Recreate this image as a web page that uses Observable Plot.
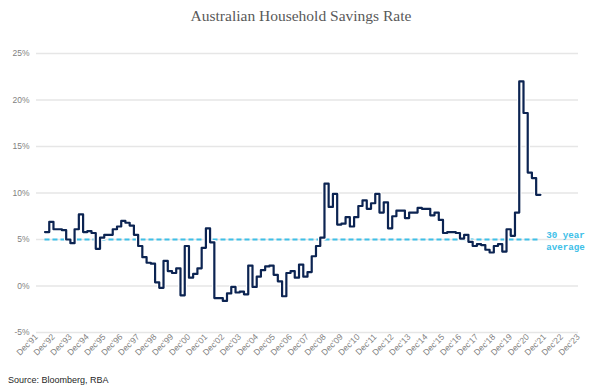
<!DOCTYPE html>
<html>
<head>
<meta charset="utf-8">
<script src="https://cdn.jsdelivr.net/npm/d3@7"></script>
<script src="https://cdn.jsdelivr.net/npm/@observablehq/plot@0.6"></script>
<style>
  html, body { margin: 0; padding: 0; background: #fff; }
  #wrap { position: relative; width: 602px; height: 392px; overflow: hidden; }
  #title { position: absolute; top: 7px; left: 0; width: 602px; text-align: center;
           font-family: "Liberation Serif", serif; font-size: 15.5px; color: #595959; }
  #chart { position: absolute; top: 35px; left: 0; }
  #caption { position: absolute; top: 375px; left: 8px; font-family: "Liberation Sans", Arial, sans-serif;
             font-size: 9px; color: #262626; }
</style>
</head>
<body>
<div id="wrap">
  <div id="title">Australian Household Savings Rate</div>
  <div id="chart"></div>
  <div id="caption">Source: Bloomberg, RBA</div>
</div>
<script>
// Quarterly savings rate (%), first value = Jun 1992, then every quarter to Jun 2021
const savingsRate = [
  5.8, 6.9, 6.1,              // 1992 (Jun, Sep, Dec)
  6.1, 6.0, 5.0, 4.6,         // 1993
  6.1, 7.7, 5.8, 5.9,         // 1994
  5.7, 4.0, 5.2, 5.5,         // 1995
  5.5, 6.1, 6.4, 7.0,         // 1996
  6.8, 6.5, 5.5, 4.3,         // 1997
  3.1, 2.5, 2.4, 0.4,         // 1998
  -0.2, 2.7, 1.6, 1.4,        // 1999
  1.9, -1.0, 4.3, 0.9,        // 2000
  1.3, 1.9, 4.1, 6.2,         // 2001
  4.7, -1.3, -1.3, -1.6,      // 2002
  -0.8, -0.1, -0.7, -0.6,     // 2003
  -0.9, 2.2, -0.1, 1.0,       // 2004
  1.7, 2.1, 2.2, 1.2,         // 2005
  0.5, -1.1, 1.4, 1.6,        // 2006
  0.9, 2.3, 1.0, 1.5,         // 2007
  3.2, 4.3, 5.2, 11.0,        // 2008
  8.5, 9.9, 6.6, 6.7,         // 2009
  7.4, 6.4, 7.4, 8.6,         // 2010
  9.2, 8.3, 8.9, 9.9,         // 2011
  7.9, 9.0, 6.2, 7.5,         // 2012
  8.1, 8.1, 7.3, 7.9,         // 2013
  7.9, 8.4, 8.3, 8.3,         // 2014
  7.6, 7.9, 7.1, 5.7,         // 2015
  5.8, 5.8, 5.7, 5.1,         // 2016
  5.5, 4.75, 4.3, 4.5,        // 2017
  4.4, 3.9, 3.6, 4.3,         // 2018
  4.5, 3.7, 6.1, 5.4,         // 2019
  7.9, 22.0, 18.6, 12.2,      // 2020
  11.6, 9.8                   // 2021
];
const startYear = 1992, startMonth = 5; // June 1992
const thirtyYearAverage = 5;
const averageLabel = ["30 year", "average"];
const xTickLabels = ["Dec'91","Dec'92","Dec'93","Dec'94","Dec'95","Dec'96","Dec'97","Dec'98","Dec'99","Dec'00",
  "Dec'01","Dec'02","Dec'03","Dec'04","Dec'05","Dec'06","Dec'07","Dec'08","Dec'09","Dec'10","Dec'11",
  "Dec'12","Dec'13","Dec'14","Dec'15","Dec'16","Dec'17","Dec'18","Dec'19","Dec'20","Dec'21","Dec'22","Dec'23"];
const yTicks = [-5, 0, 5, 10, 15, 20, 25];

const quarterDate = i => new Date(Date.UTC(startYear, startMonth + 3 * i, 1));
const series = savingsRate.map((v, i) => ({date: quarterDate(i), value: v}));
// extend the last quarter's value to the end of that quarter
series.push({date: quarterDate(savingsRate.length), value: savingsRate[savingsRate.length - 1]});
const firstDate = series[0].date, lastDate = series[series.length - 1].date;

const tickDates = xTickLabels.map((_, i) => new Date(Date.UTC(1991 + i, 11, 1)));
const labelOf = new Map(tickDates.map((d, i) => [+d, xTickLabels[i]]));

const chart = Plot.plot({
  width: 602,
  height: 335,
  marginLeft: 36,
  marginRight: 24,
  marginTop: 18,
  marginBottom: 38,
  style: {fontFamily: "'Liberation Sans', Arial, sans-serif", background: "white"},
  x: {type: "utc", domain: [tickDates[0], tickDates[tickDates.length - 1]], label: null},
  y: {domain: [-5, 25], label: null},
  marks: [
    Plot.gridY(yTicks, {stroke: "#e6e6e6", strokeOpacity: 1, strokeWidth: 1.5}),
    Plot.axisY(yTicks, {label: null, tickSize: 0, tickPadding: 7, tickFormat: d => d + "%", fontSize: 8.5, fill: "#7f7f7f"}),
    Plot.axisX(tickDates, {label: null, tickSize: 0, tickPadding: 3, tickRotate: -45, tickFormat: d => labelOf.get(+d),
      fontSize: 8.5, fill: "#7f7f7f"}),
    Plot.ruleY([thirtyYearAverage], {x1: firstDate, x2: lastDate, stroke: "#3ec0e8", strokeWidth: 2, strokeDasharray: "5,3"}),
    Plot.line(series, {x: "date", y: "value", curve: "step-after", stroke: "white", strokeWidth: 4.5}),
    Plot.line(series, {x: "date", y: "value", curve: "step-after", stroke: "#0c2452", strokeWidth: 2.2}),
    Plot.text([averageLabel.join("\n")], {x: lastDate, y: thirtyYearAverage, text: d => d, dx: 25, dy: 1,
      textAnchor: "middle", lineHeight: 1.3, fill: "#3ec0e8", fontWeight: "bold",
      fontFamily: "'Liberation Mono', monospace", fontSize: 9.2})
  ]
});
document.getElementById("chart").appendChild(chart);
</script>
</body>
</html>
